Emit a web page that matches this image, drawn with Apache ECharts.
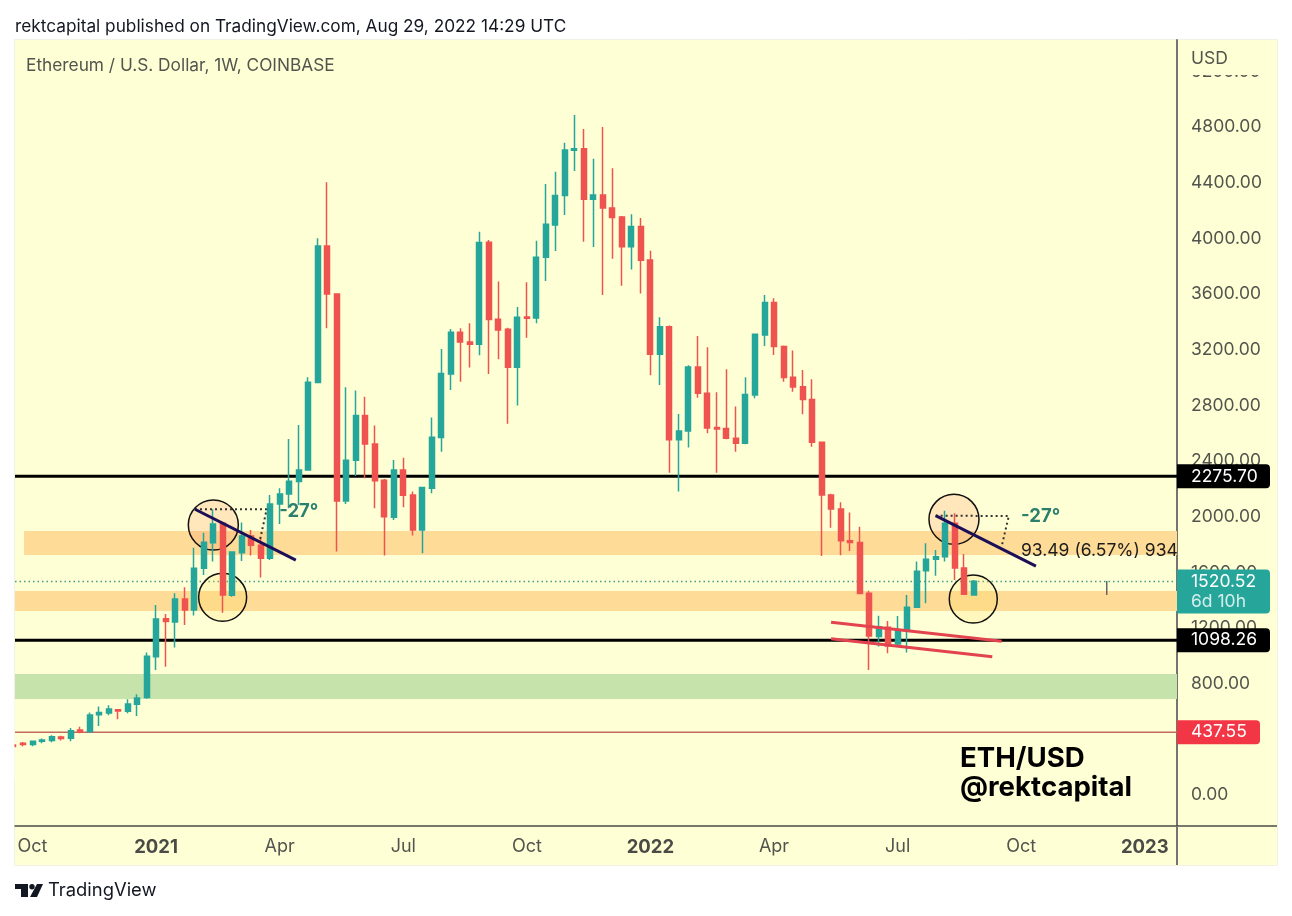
<!DOCTYPE html>
<html>
<head>
<meta charset="utf-8">
<title>ETH/USD</title>
<script src="https://cdn.jsdelivr.net/npm/echarts@6/dist/echarts.min.js"></script>
<style>
    html, body { margin: 0; padding: 0; background: #fff; }
    #main { width: 1292px; height: 916px; }
</style>
</head>
<body>
<div id="main"></div>
<script>
// weekly candles, first one is cut by the left edge
const opens = [345, 357, 348, 372, 377, 403, 393, 453, 441, 563, 575, 599, 587, 638, 686, 980, 1253, 1229, 1394, 1315, 1615, 1799, 1938, 1421, 1727, 1847, 1780, 1687, 2077, 2149, 2238, 2322, 2949, 3931, 3586, 2099, 2391, 2712, 2508, 2247, 1981, 2322, 2142, 1890, 2190, 2554, 3011, 3311, 3241, 3225, 3957, 3404, 3332, 3059, 3421, 3414, 3850, 4082, 4293, 4618, 4630, 4266, 4297, 4204, 4139, 3926, 4070, 3830, 3153, 3351, 2539, 2602, 3062, 2872, 2626, 2619, 2549, 2513, 2860, 3292, 3524, 3208, 2987, 2920, 2827, 2520, 2141, 2041, 1813, 1801, 1435, 1124, 1191, 1071, 1167, 1335, 1598, 1679, 1698, 1938, 1617, 1423];
const closes = [335, 348, 372, 381, 405, 391, 448, 439, 561, 578, 604, 590, 640, 683, 983, 1251, 1232, 1394, 1315, 1615, 1802, 1933, 1423, 1732, 1847, 1780, 1687, 2077, 2149, 2240, 2321, 2951, 3931, 3586, 2099, 2391, 2712, 2508, 2243, 1986, 2322, 2140, 1890, 2195, 2556, 3014, 3311, 3241, 3225, 3955, 3402, 3327, 3059, 3418, 3411, 3850, 4087, 4293, 4621, 4630, 4266, 4297, 4204, 4135, 3926, 4070, 3828, 3153, 3351, 2539, 2602, 3062, 2872, 2623, 2616, 2549, 2513, 2863, 3296, 3524, 3208, 2985, 2918, 2827, 2520, 2141, 2041, 1813, 1801, 1433, 1128, 1195, 1057, 1172, 1335, 1593, 1679, 1698, 1938, 1617, 1428, 1521];
const lows = [330, 336, 336, 357, 365, 377, 372, 429, 434, 482, 559, 530, 573, 554, 678, 884, 908, 1045, 1208, 1275, 1567, 1663, 1296, 1411, 1668, 1706, 1548, 1675, 1933, 2046, 2070, 2317, 2949, 3339, 1735, 2077, 2278, 2262, 2046, 1706, 1962, 2053, 1850, 1723, 2154, 2453, 2896, 2956, 3057, 3145, 3011, 3117, 2654, 2784, 3272, 3375, 3680, 3895, 4154, 4470, 3962, 3924, 3579, 3840, 3646, 3761, 3589, 3002, 2932, 2302, 2166, 2482, 2841, 2585, 2302, 2542, 2453, 2506, 2836, 3212, 3148, 2956, 2884, 2722, 2489, 1703, 1907, 1708, 1739, 1430, 884, 1052, 1004, 1052, 1009, 1332, 1363, 1562, 1663, 1531, 1428, 1418];
const highs = [350, 367, 377, 391, 415, 412, 468, 477, 578, 621, 630, 602, 674, 709, 1009, 1351, 1287, 1435, 1478, 1763, 1871, 2039, 1950, 1735, 1943, 1890, 1842, 2142, 2190, 2544, 2645, 2987, 3986, 4388, 3591, 2916, 2892, 2848, 2640, 2257, 2393, 2410, 2166, 2197, 2698, 3191, 3335, 3339, 3375, 4034, 3974, 3675, 3344, 3493, 3670, 3969, 4376, 4465, 4673, 4872, 4772, 4558, 4786, 4489, 4147, 4159, 4132, 3897, 3418, 3359, 2724, 3074, 3284, 3203, 2880, 3045, 2777, 2987, 3296, 3579, 3555, 3215, 3179, 3040, 2973, 2525, 2150, 2089, 2015, 1914, 1454, 1274, 1236, 1272, 1423, 1663, 1794, 1746, 2029, 2010, 1718, 1531];

// 400 sits behind the 437.55 tag in the picture
const priceTicks = [0, 800, 1200, 1600, 2000, 2400, 2800, 3200, 3600, 4000, 4400, 4800, 5200];
const weekTicks = [2, 15, 28, 41, 54, 67, 80, 93, 106, 119];
const weekTickLabels = ['Oct', '2021', 'Apr', 'Jul', 'Oct', '2022', 'Apr', 'Jul', 'Oct', '2023'];

// levels and zones (price)
const levelHigh = 2275.70;
const levelLow = 1098.26;
const levelBase = 437.55;
const lastPrice = 1520.52;
const upperZone = [1710, 1883];
const lowerZone = [1308, 1452];
const greenZone = [675, 855];

// drawings as [week, price]
const downTrend1 = [[19.09, 2039], [29.7, 1674]];
const downTrend2 = [[97.0, 1993], [107.55, 1631]];
const wedgeTop = [[86.0, 1227], [103.95, 1090]];
const wedgeBottom = [[86.0, 1109], [102.96, 979]];
const angle1 = [[19.09, 2039], [26.63, 2039], [25.93, 1818]];
const angle2 = [[97.0, 1993], [104.7, 1990], [103.98, 1782]];
const smallTick = [[115.0, 1523], [115.0, 1423]];
const topCircles = [[21.02, 1926], [98.93, 1967]];
const bottomCircles = [[22.0, 1406], [100.96, 1394]];

const xMin = 0.158;
const xMax = 122.39;
const yMin = -237;
const yMax = 5411;

const panelColor = '#ffffd6';
const font = 'Inter, "Noto Sans", sans-serif';

function lineSeries(data, color, width, type, z) {
    return {
        type: 'line',
        data: data,
        z: z,
        silent: true,
        showSymbol: false,
        symbol: 'none',
        lineStyle: { color: color, width: width, type: type || 'solid', cap: 'butt' }
    };
}

function zoneArea(fromX, zone, color) {
    return [
        { xAxis: fromX, yAxis: zone[0], itemStyle: { color: color } },
        { xAxis: xMax, yAxis: zone[1] }
    ];
}

function textPoint(x, y, text, size, color, weight) {
    return {
        type: 'scatter',
        data: [[x, y]],
        symbolSize: 0,
        z: 8,
        silent: true,
        itemStyle: { opacity: 1 },
        label: {
            show: true,
            position: 'right',
            distance: 0,
            formatter: text,
            fontFamily: font,
            fontSize: size,
            fontWeight: weight || 'normal',
            color: color,
            opacity: 1
        }
    };
}

function priceTag(value, text, color, width, height, dy) {
    return {
        type: 'scatter',
        data: [[xMax, value]],
        symbolSize: 0,
        clip: false,
        z: 10,
        silent: true,
        itemStyle: { opacity: 1 },
        label: {
            show: true,
            position: 'right',
            distance: 0,
            offset: [0, dy || 0],
            formatter: text,
            fontFamily: font,
            fontSize: 17.5,
            lineHeight: 20,
            color: '#fff',
            opacity: 1,
            backgroundColor: color,
            borderRadius: [0, 4, 4, 0],
            padding: [2, 0, 0, 14],
            width: width - 14,
            height: height - 2,
            align: 'left',
            verticalAlign: 'middle',
            rich: {
                sub: { fontFamily: font, fontSize: 17.5, lineHeight: 20, color: '#d3efeb' }
            }
        }
    };
}

const chart = echarts.init(document.getElementById('main'));

chart.setOption({
    animation: false,
    backgroundColor: '#ffffff',
    grid: { left: 15, top: 40, width: 1162, height: 786 },
    title: [
        {
            text: 'rektcapital published on TradingView.com, Aug 29, 2022 14:29 UTC',
            left: 15,
            top: 18,
            padding: 0,
            textStyle: { fontFamily: font, fontSize: 17.25, fontWeight: 'normal', color: '#131722' }
        },
        {
            text: 'Ethereum / U.S. Dollar, 1W, COINBASE',
            left: 26,
            top: 57,
            padding: 0,
            textStyle: { fontFamily: font, fontSize: 17.3, fontWeight: 'normal', color: '#53544d' }
        }
    ],
    xAxis: {
        type: 'value',
        min: xMin,
        max: xMax,
        splitLine: { show: false },
        axisLine: { show: true, onZero: false, lineStyle: { color: '#4a4a46', width: 1.5 } },
        axisTick: { show: false },
        axisLabel: {
            customValues: weekTicks,
            margin: 12,
            fontFamily: font,
            fontSize: 18,
            color: '#53544d',
            formatter: function (v) {
                const text = weekTickLabels[weekTicks.indexOf(v)];
                return text.length === 4 ? '{year|' + text + '}' : text;
            },
            rich: {
                year: { fontFamily: font, fontSize: 18.5, fontWeight: 'bold', color: '#4a4a46' }
            }
        }
    },
    yAxis: {
        type: 'value',
        position: 'right',
        min: yMin,
        max: yMax,
        splitLine: { show: false },
        axisLine: { show: true, onZero: false, lineStyle: { color: '#75756f', width: 2 } },
        axisTick: { show: false },
        axisLabel: {
            customValues: priceTicks,
            margin: 14,
            fontFamily: font,
            fontSize: 17.5,
            color: '#53544d',
            formatter: function (v) { return '{tick|' + v.toFixed(2) + '}'; },
            rich: {
                tick: { fontFamily: font, fontSize: 17.5, color: '#53544d', padding: [4, 0, 0, 0] }
            }
        }
    },
    series: [
        // zones
        {
            type: 'line',
            data: [],
            z: 1,
            silent: true,
            markArea: {
                silent: true,
                z: 1,
                data: [
                    zoneArea(1.1, upperZone, '#fedc97'),
                    zoneArea(xMin, lowerZone, '#fedc97'),
                    zoneArea(xMin, greenZone, '#c5e3ab')
                ]
            }
        },
        // horizontal levels
        lineSeries([[xMin, levelHigh], [xMax, levelHigh]], '#000000', 3, 'solid', 2),
        lineSeries([[xMin, levelLow], [xMax, levelLow]], '#000000', 3, 'solid', 2),
        lineSeries([[xMin, levelBase], [xMax, levelBase]], '#bd6a5f', 1.5, 'solid', 2),
        lineSeries([[xMin, lastPrice], [xMax, lastPrice]], '#3f9a90', 1.5, [1.5, 3], 2),
        // circles
        {
            type: 'scatter',
            data: topCircles,
            symbolSize: 50,
            z: 3,
            silent: true,
            itemStyle: { color: 'rgba(255, 140, 90, 0.22)', borderColor: '#111', borderWidth: 1.5, opacity: 1 }
        },
        {
            type: 'scatter',
            data: bottomCircles,
            symbolSize: 48,
            z: 3,
            silent: true,
            itemStyle: { color: 'rgba(255, 220, 90, 0.22)', borderColor: '#111', borderWidth: 1.5, opacity: 1 }
        },
        // candles
        {
            type: 'candlestick',
            z: 4,
            silent: true,
            barWidth: 5.5,
            itemStyle: {
                color: '#26a69a',
                color0: '#ef5350',
                borderColor: '#26a69a',
                borderColor0: '#ef5350',
                borderWidth: 1.5
            },
            data: opens.map(function (o, i) {
                return [i, o, closes[i], lows[i], highs[i]];
            })
        },
        // drawings on top of the candles
        lineSeries(angle1, '#333333', 2, [2, 3], 5),
        lineSeries(angle2, '#333333', 2, [2, 3], 5),
        lineSeries(downTrend1, '#1c0f57', 3, 'solid', 6),
        lineSeries(downTrend2, '#1c0f57', 3, 'solid', 6),
        lineSeries(wedgeTop, '#e2434f', 3, 'solid', 6),
        lineSeries(wedgeBottom, '#e2434f', 3, 'solid', 6),
        lineSeries(smallTick, '#666666', 1.5, 'solid', 6),
        textPoint(27.95, 2020, '-27°', 18.5, '#2a7f6e', 'bold'),
        textPoint(105.98, 1985, '-27°', 18.5, '#2a7f6e', 'bold'),
        textPoint(105.98, 1740, '93.49 (6.57%) 934', 17.5, '#1c1c1c'),
        // price tags on the axis
        priceTag(levelHigh, '2275.70', '#000000', 93, 24),
        priceTag(levelLow, '1098.26', '#000000', 93, 24),
        priceTag(levelBase, '437.55', '#f23645', 83, 24),
        priceTag(lastPrice, '1520.52\n{sub|6d 10h}', '#26a69a', 93, 44, 10)
    ],
    graphic: [
        // panel behind everything
        {
            type: 'rect', z: -10, silent: true,
            shape: { x: 14.5, y: 39.5, width: 1263, height: 826 },
            style: { fill: panelColor, stroke: '#f1f1e6', lineWidth: 1 }
        },
        // trims the cut candle at the left edge
        {
            type: 'rect', z: 20, silent: true,
            shape: { x: 0, y: 700, width: 14.5, height: 80 },
            style: { fill: '#ffffff' }
        },
        // lines running on past the plot
        {
            type: 'line', z: 1, silent: true,
            shape: { x1: 1177, y1: 826, x2: 1277, y2: 826 },
            style: { stroke: '#4a4a46', lineWidth: 1.5 }
        },
        {
            type: 'line', z: 1, silent: true,
            shape: { x1: 1177, y1: 826, x2: 1177, y2: 865 },
            style: { stroke: '#75756f', lineWidth: 2 }
        },
        // USD header covers the top tick
        {
            type: 'rect', z: 20, silent: true,
            shape: { x: 1178.5, y: 40, width: 98, height: 35 },
            style: { fill: panelColor }
        },
        {
            type: 'text', z: 21, silent: true, left: 1191, top: 50,
            style: { text: 'USD', font: '17.5px ' + font, fill: '#53544d' }
        },
        // signature
        {
            type: 'text', z: 21, silent: true, left: 960, top: 744,
            style: { text: 'ETH/USD\n@rektcapital', font: 'bold 27.6px ' + font, lineHeight: 29, fill: '#000' }
        },
        // TradingView mark
        {
            type: 'polygon', silent: true,
            shape: { points: [[15, 884], [28, 884], [28, 897], [21, 897], [21, 889], [15, 889]] },
            style: { fill: '#131722' }
        },
        {
            type: 'circle', silent: true,
            shape: { cx: 32, cy: 886.8, r: 2.7 },
            style: { fill: '#131722' }
        },
        {
            type: 'polygon', silent: true,
            shape: { points: [[37, 884], [43, 884], [37, 897], [30, 897]] },
            style: { fill: '#131722' }
        },
        {
            type: 'text', silent: true, left: 48, top: 881,
            style: { text: 'TradingView', font: '18.4px ' + font, fill: '#131722' }
        }
    ]
});

window.addEventListener('resize', function () {
    chart.resize();
});
</script>
</body>
</html>
